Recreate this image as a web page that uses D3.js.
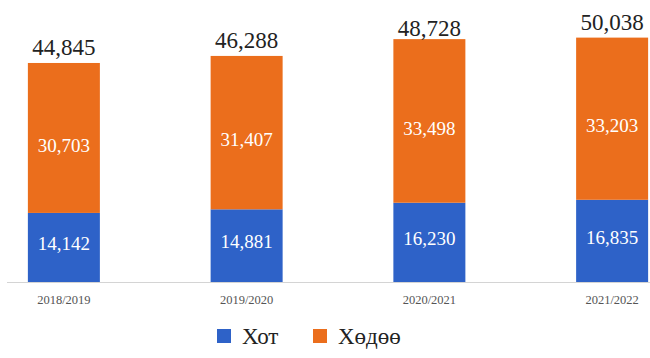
<!DOCTYPE html>
<html><head><meta charset="utf-8">
<script src="https://cdn.jsdelivr.net/npm/d3@7"></script>
<style>body{margin:0;background:#fff}svg{display:block}</style>
</head><body>
<svg id="c" width="650" height="358"></svg>
<script>
const categories = ["2018/2019", "2019/2020", "2020/2021", "2021/2022"];
const seriesNames = ["Хот", "Хөдөө"];
const hotValues = [14142, 14881, 16230, 16835];
const khodooValues = [30703, 31407, 33498, 33203];
const totals = [44845, 46288, 48728, 50038];
const colors = ["#2E62C8", "#EB6E1C"];

const svg = d3.select("#c");
const font = "'Liberation Serif', 'Times New Roman', serif";
const baseY = 282;

const x = d3.scaleBand().domain(categories).range([-27.5, 703.5]).paddingInner(0.6).paddingOuter(0.3);
const y = d3.scaleLinear().domain([0, 55000]).range([baseY, baseY - 55000 * 0.004884]);

const rows = categories.map((c, i) => ({cat: c, hot: hotValues[i], khodoo: khodooValues[i], total: totals[i]}));
const stack = d3.stack().keys(["hot", "khodoo"])(rows);

// axis line
svg.append("line").attr("x1", 7).attr("x2", 650).attr("y1", baseY + 0.5).attr("y2", baseY + 0.5)
  .attr("stroke", "#d4d4d4").attr("stroke-width", 1);

const bw = 72;
stack.forEach((s, si) => {
  const g = svg.append("g");
  g.selectAll("rect").data(s).join("rect")
    .attr("x", d => x(d.data.cat) + x.bandwidth() / 2 - bw / 2)
    .attr("width", bw)
    .attr("y", d => y(d[1]))
    .attr("height", d => y(d[0]) - y(d[1]))
    .attr("fill", colors[si]);
  g.selectAll("text").data(s).join("text")
    .attr("x", d => x(d.data.cat) + x.bandwidth() / 2)
    .attr("y", d => (y(d[0]) + y(d[1])) / 2 + (si === 0 ? -4 : 7))
    .attr("dy", "0.35em")
    .attr("text-anchor", "middle")
    .attr("fill", "#fff")
    .attr("font-family", font)
    .attr("font-size", 19)
    .text(d => d3.format(",")(d[1] - d[0]));
});

// totals
svg.append("g").selectAll("text").data(rows).join("text")
  .attr("x", d => x(d.cat) + x.bandwidth() / 2)
  .attr("y", d => y(d.total) - 8)
  .attr("text-anchor", "middle")
  .attr("fill", "#222")
  .attr("font-family", font)
  .attr("font-size", 23)
  .text(d => d3.format(",")(d.total));

// category labels
svg.append("g").selectAll("text").data(categories).join("text")
  .attr("x", d => x(d) + x.bandwidth() / 2)
  .attr("y", 300)
  .attr("dy", "0.35em")
  .attr("text-anchor", "middle")
  .attr("fill", "#555")
  .attr("font-family", font)
  .attr("font-size", 12.5)
  .text(d => d);

// legend
const legX = [217, 313];
seriesNames.forEach((n, i) => {
  svg.append("rect").attr("x", legX[i]).attr("y", 329).attr("width", 14).attr("height", 14).attr("fill", colors[i]);
  svg.append("text").attr("x", legX[i] + 25).attr("y", 336).attr("dy", "0.35em")
    .attr("fill", "#222").attr("font-family", font).attr("font-size", 23).text(n);
});
</script>
</body></html>
